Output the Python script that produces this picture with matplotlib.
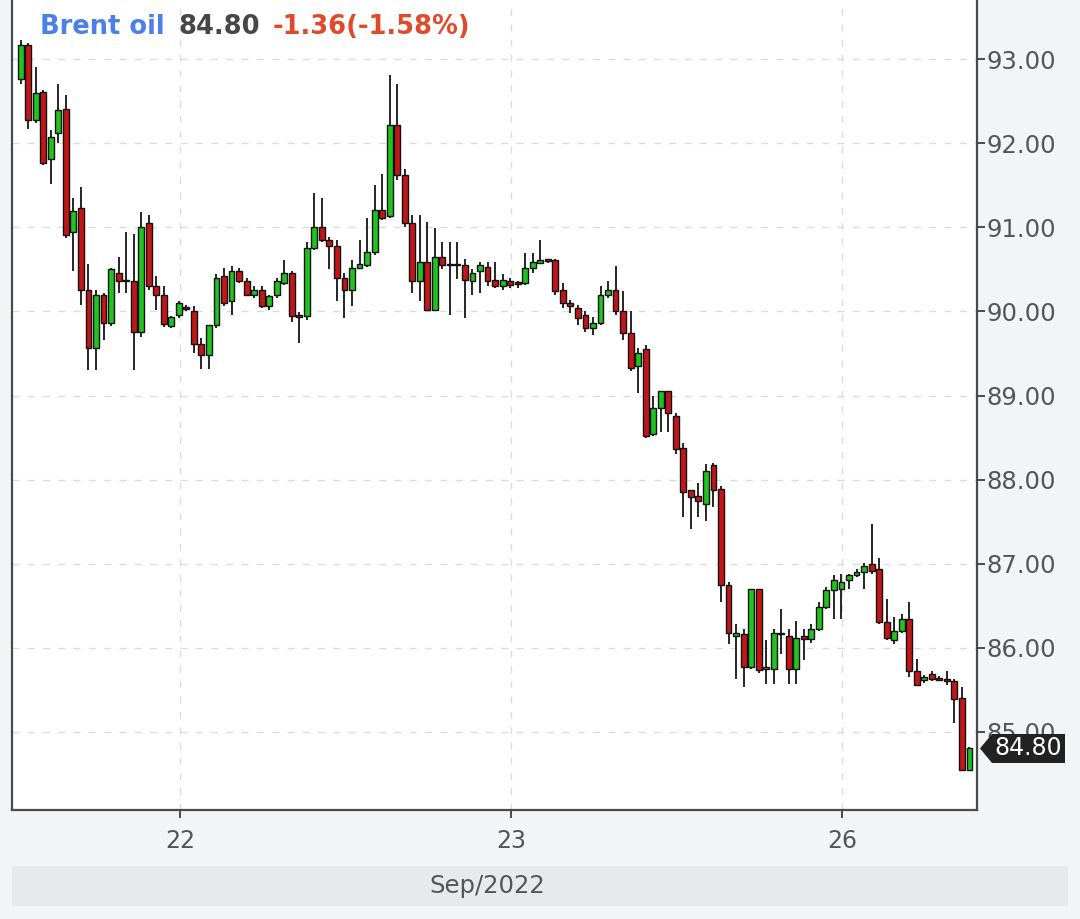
import matplotlib
matplotlib.use("Agg")
import matplotlib.pyplot as plt
from matplotlib.patches import Polygon, Rectangle
from matplotlib.transforms import blended_transform_factory

# ---------------- data (30-min candles, Brent oil) ----------------
opens = [92.77, 93.17, 92.28, 92.61, 91.82, 92.12, 92.41, 90.95, 91.23, 90.26,
         89.57, 90.20, 89.86, 90.46, 90.38, 90.36, 89.76, 91.05, 90.30, 90.20,
         89.83, 89.96, 90.05, 90.00, 89.61, 89.48, 89.84, 90.42, 90.12, 90.48,
         90.36, 90.20, 90.26, 90.07, 90.20, 90.34, 90.46, 89.96, 89.95, 90.75,
         91.01, 90.85, 90.78, 90.40, 90.26, 90.52, 90.55, 90.71, 91.21, 91.13,
         92.22, 91.62, 91.05, 90.36, 90.59, 90.02, 90.65, 90.57, 90.57, 90.55,
         90.36, 90.48, 90.53, 90.38, 90.30, 90.36, 90.34, 90.34, 90.52, 90.58,
         90.61, 90.61, 90.26, 90.10, 90.04, 89.96, 89.80, 89.86, 90.20, 90.26,
         90.00, 89.74, 89.35, 89.55, 88.54, 88.85, 89.05, 88.76, 88.37, 87.87,
         87.81, 87.71, 88.17, 87.89, 86.74, 86.14, 86.16, 85.77, 86.70, 85.75,
         85.75, 86.18, 86.14, 85.75, 86.14, 86.10, 86.22, 86.48, 86.68, 86.70,
         86.81, 86.86, 86.90, 86.99, 86.93, 86.30, 86.09, 86.20, 86.34, 85.72,
         85.61, 85.69, 85.63, 85.63, 85.60, 85.40, 84.54]
highs = [93.23, 93.19, 92.91, 92.64, 92.16, 92.71, 92.58, 91.35, 91.48, 90.56,
         90.26, 90.22, 90.52, 90.65, 90.95, 90.92, 91.18, 91.15, 90.42, 90.30,
         89.95, 90.13, 90.08, 90.06, 89.68, 89.84, 90.44, 90.52, 90.54, 90.52,
         90.40, 90.30, 90.30, 90.20, 90.40, 90.61, 90.48, 89.99, 90.83, 91.41,
         91.35, 90.89, 90.85, 90.46, 90.61, 90.85, 91.11, 91.50, 91.64, 92.81,
         92.71, 91.70, 91.15, 91.15, 91.07, 90.99, 90.83, 90.83, 90.83, 90.63,
         90.50, 90.59, 90.59, 90.59, 90.44, 90.40, 90.36, 90.69, 90.69, 90.85,
         90.63, 90.62, 90.34, 90.14, 90.08, 90.00, 89.94, 90.30, 90.36, 90.54,
         90.24, 90.00, 89.57, 89.60, 88.99, 89.05, 89.05, 88.79, 88.44, 87.88,
         87.96, 88.18, 88.20, 87.92, 86.78, 86.28, 86.22, 86.70, 86.70, 86.09,
         86.22, 86.46, 86.22, 86.32, 86.22, 86.28, 86.54, 86.72, 86.86, 86.88,
         86.88, 86.94, 87.01, 87.47, 87.07, 86.58, 86.36, 86.40, 86.54, 85.87,
         85.68, 85.72, 85.66, 85.72, 85.63, 85.53, 84.82]
lows = [92.71, 92.17, 92.24, 91.74, 91.52, 92.00, 90.88, 90.48, 90.08, 89.30,
        89.30, 89.66, 89.83, 90.22, 90.22, 89.30, 89.70, 90.26, 90.02, 89.82,
        89.80, 89.92, 90.00, 89.51, 89.31, 89.31, 89.80, 90.06, 89.96, 90.34,
        90.18, 90.16, 90.04, 90.02, 90.16, 90.32, 89.88, 89.63, 89.90, 90.73,
        90.83, 90.50, 90.12, 89.92, 90.06, 90.50, 90.53, 90.67, 91.09, 91.11,
        91.56, 91.00, 90.22, 90.12, 90.00, 90.00, 90.50, 89.96, 90.39, 89.92,
        90.20, 90.22, 90.30, 90.28, 90.26, 90.28, 90.28, 90.32, 90.46, 90.57,
        90.58, 90.20, 90.04, 89.98, 89.84, 89.76, 89.72, 89.84, 90.16, 89.96,
        89.66, 89.29, 89.03, 88.50, 88.52, 88.56, 88.56, 88.30, 87.55, 87.41,
        87.55, 87.51, 87.67, 86.54, 86.04, 85.63, 85.53, 85.75, 85.70, 85.57,
        85.57, 85.93, 85.57, 85.57, 85.85, 86.06, 86.20, 86.46, 86.34, 86.34,
        86.70, 86.84, 86.70, 86.88, 86.28, 86.09, 86.04, 86.18, 85.65, 85.55,
        85.58, 85.60, 85.60, 85.56, 85.10, 84.54, 84.54]
closes = [93.17, 92.28, 92.60, 91.77, 92.08, 92.40, 90.91, 91.19, 90.26, 89.57,
          90.20, 89.86, 90.50, 90.36, 90.36, 89.76, 91.01, 90.30, 90.20, 89.85,
          89.93, 90.10, 90.03, 89.61, 89.48, 89.84, 90.40, 90.10, 90.48, 90.36,
          90.20, 90.26, 90.07, 90.18, 90.36, 90.46, 89.95, 89.93, 90.75, 91.01,
          90.85, 90.78, 90.40, 90.26, 90.52, 90.56, 90.71, 91.21, 91.11, 92.22,
          91.62, 91.05, 90.36, 90.59, 90.02, 90.65, 90.55, 90.55, 90.55, 90.38,
          90.46, 90.55, 90.36, 90.30, 90.38, 90.32, 90.33, 90.52, 90.59, 90.61,
          90.60, 90.24, 90.10, 90.06, 89.92, 89.80, 89.86, 90.20, 90.26, 90.00,
          89.74, 89.33, 89.51, 88.52, 88.85, 89.05, 88.79, 88.36, 87.85, 87.79,
          87.75, 88.10, 87.88, 86.74, 86.18, 86.18, 85.77, 86.70, 85.73, 85.75,
          86.18, 86.16, 85.75, 86.12, 86.10, 86.22, 86.48, 86.68, 86.80, 86.78,
          86.86, 86.90, 86.97, 86.91, 86.30, 86.12, 86.20, 86.34, 85.72, 85.56,
          85.65, 85.63, 85.62, 85.60, 85.39, 84.54, 84.80]

day_labels = ["22", "23", "26"]
day_tick_pos = [21.16, 65.11, 109.07]     # candle-index position of each day start
price_ticks = [85, 86, 87, 88, 89, 90, 91, 92, 93]
month_label = "Sep/2022"
title_name = "Brent oil"
last_price = 84.80
change_text = "-1.36(-1.58%)"

# ---------------- style ----------------
W, H = 1080, 919
BG = "#f3f4f6"
UP = "#1fc41f"
DOWN = "#c41616"
WICK = "#262626"
AXC = "#4a4a4a"
TXT = "#555555"

fig = plt.figure(figsize=(W / 100, H / 100), dpi=100)
fig.patch.set_facecolor(BG)
ax = fig.add_axes([12 / W, 109 / H, 965 / W, 810 / H])
ax.set_facecolor("white")

n = len(opens)
xs = list(range(n))
for i in xs:
    o, h, l, c = opens[i], highs[i], lows[i], closes[i]
    ax.vlines(i, l, h, color=WICK, lw=1.4, zorder=3)
    col = UP if c >= o else DOWN
    bot = min(o, c)
    hgt = max(abs(c - o), 0.02)
    ax.bar(i, hgt, bottom=bot, width=0.78, color=col, edgecolor="#111111",
           linewidth=1.0, zorder=4)

ax.set_xlim(-1.155, 127.0)
ax.set_ylim(84.068, 93.706)

# grid
for p in price_ticks:
    ax.axhline(p, color="#dcdcdc", lw=1.0, dashes=(5, 6), zorder=1)
for d in day_tick_pos:
    ax.axvline(d, color="#dcdcdc", lw=1.0, dashes=(5, 6), zorder=1)

# axes / spines
ax.spines["top"].set_visible(False)
for s in ["left", "bottom", "right"]:
    ax.spines[s].set_color(AXC)
    ax.spines[s].set_linewidth(1.6)

ax.yaxis.tick_right()
ax.set_yticks(price_ticks)
ax.set_yticklabels([f"{p:.2f}" for p in price_ticks])
ax.tick_params(axis="y", direction="out", length=6, width=1.4, colors=AXC,
               labelcolor=TXT, labelsize=17.5, pad=1)
ax.set_xticks(day_tick_pos)
ax.set_xticklabels(day_labels)
ax.tick_params(axis="x", direction="out", length=6, width=1.4, colors=AXC,
               labelcolor=TXT, labelsize=17, pad=8)

# header
hy = 1 - 27 / H
fig.text(40 / W, hy, title_name, color="#4a80e8", fontsize=18.5, fontweight="bold", va="center")
fig.text(178 / W, hy, f"{last_price:.2f}", color="#474747", fontsize=18.5, fontweight="bold", va="center")
fig.text(273 / W, hy, change_text, color="#e04a2a", fontsize=18.5, fontweight="bold", va="center")

# month band
fig.add_artist(Rectangle((12 / W, (H - 906) / H), (1068 - 12) / W, 40 / H,
                         transform=fig.transFigure, facecolor="#e8e9eb",
                         edgecolor="none", zorder=0))
fig.text(487 / W, (H - 886) / H, month_label, color=TXT, fontsize=17.5,
         ha="center", va="center")

# last price tag
bt = blended_transform_factory(fig.transFigure, ax.transData)
hh = 14.5 / 84.05
tag = Polygon([(980 / W, last_price), (992 / W, last_price + hh), (1065 / W, last_price + hh),
               (1065 / W, last_price - hh), (992 / W, last_price - hh)],
              closed=True, transform=bt, facecolor="#222222", edgecolor="none",
              zorder=20, clip_on=False)
fig.add_artist(tag)
fig.text(1028 / W, last_price, f"{last_price:.2f}", transform=bt, color="white",
         fontsize=17, ha="center", va="center", zorder=21)

fig.savefig("out.png", dpi=100, facecolor=BG)
